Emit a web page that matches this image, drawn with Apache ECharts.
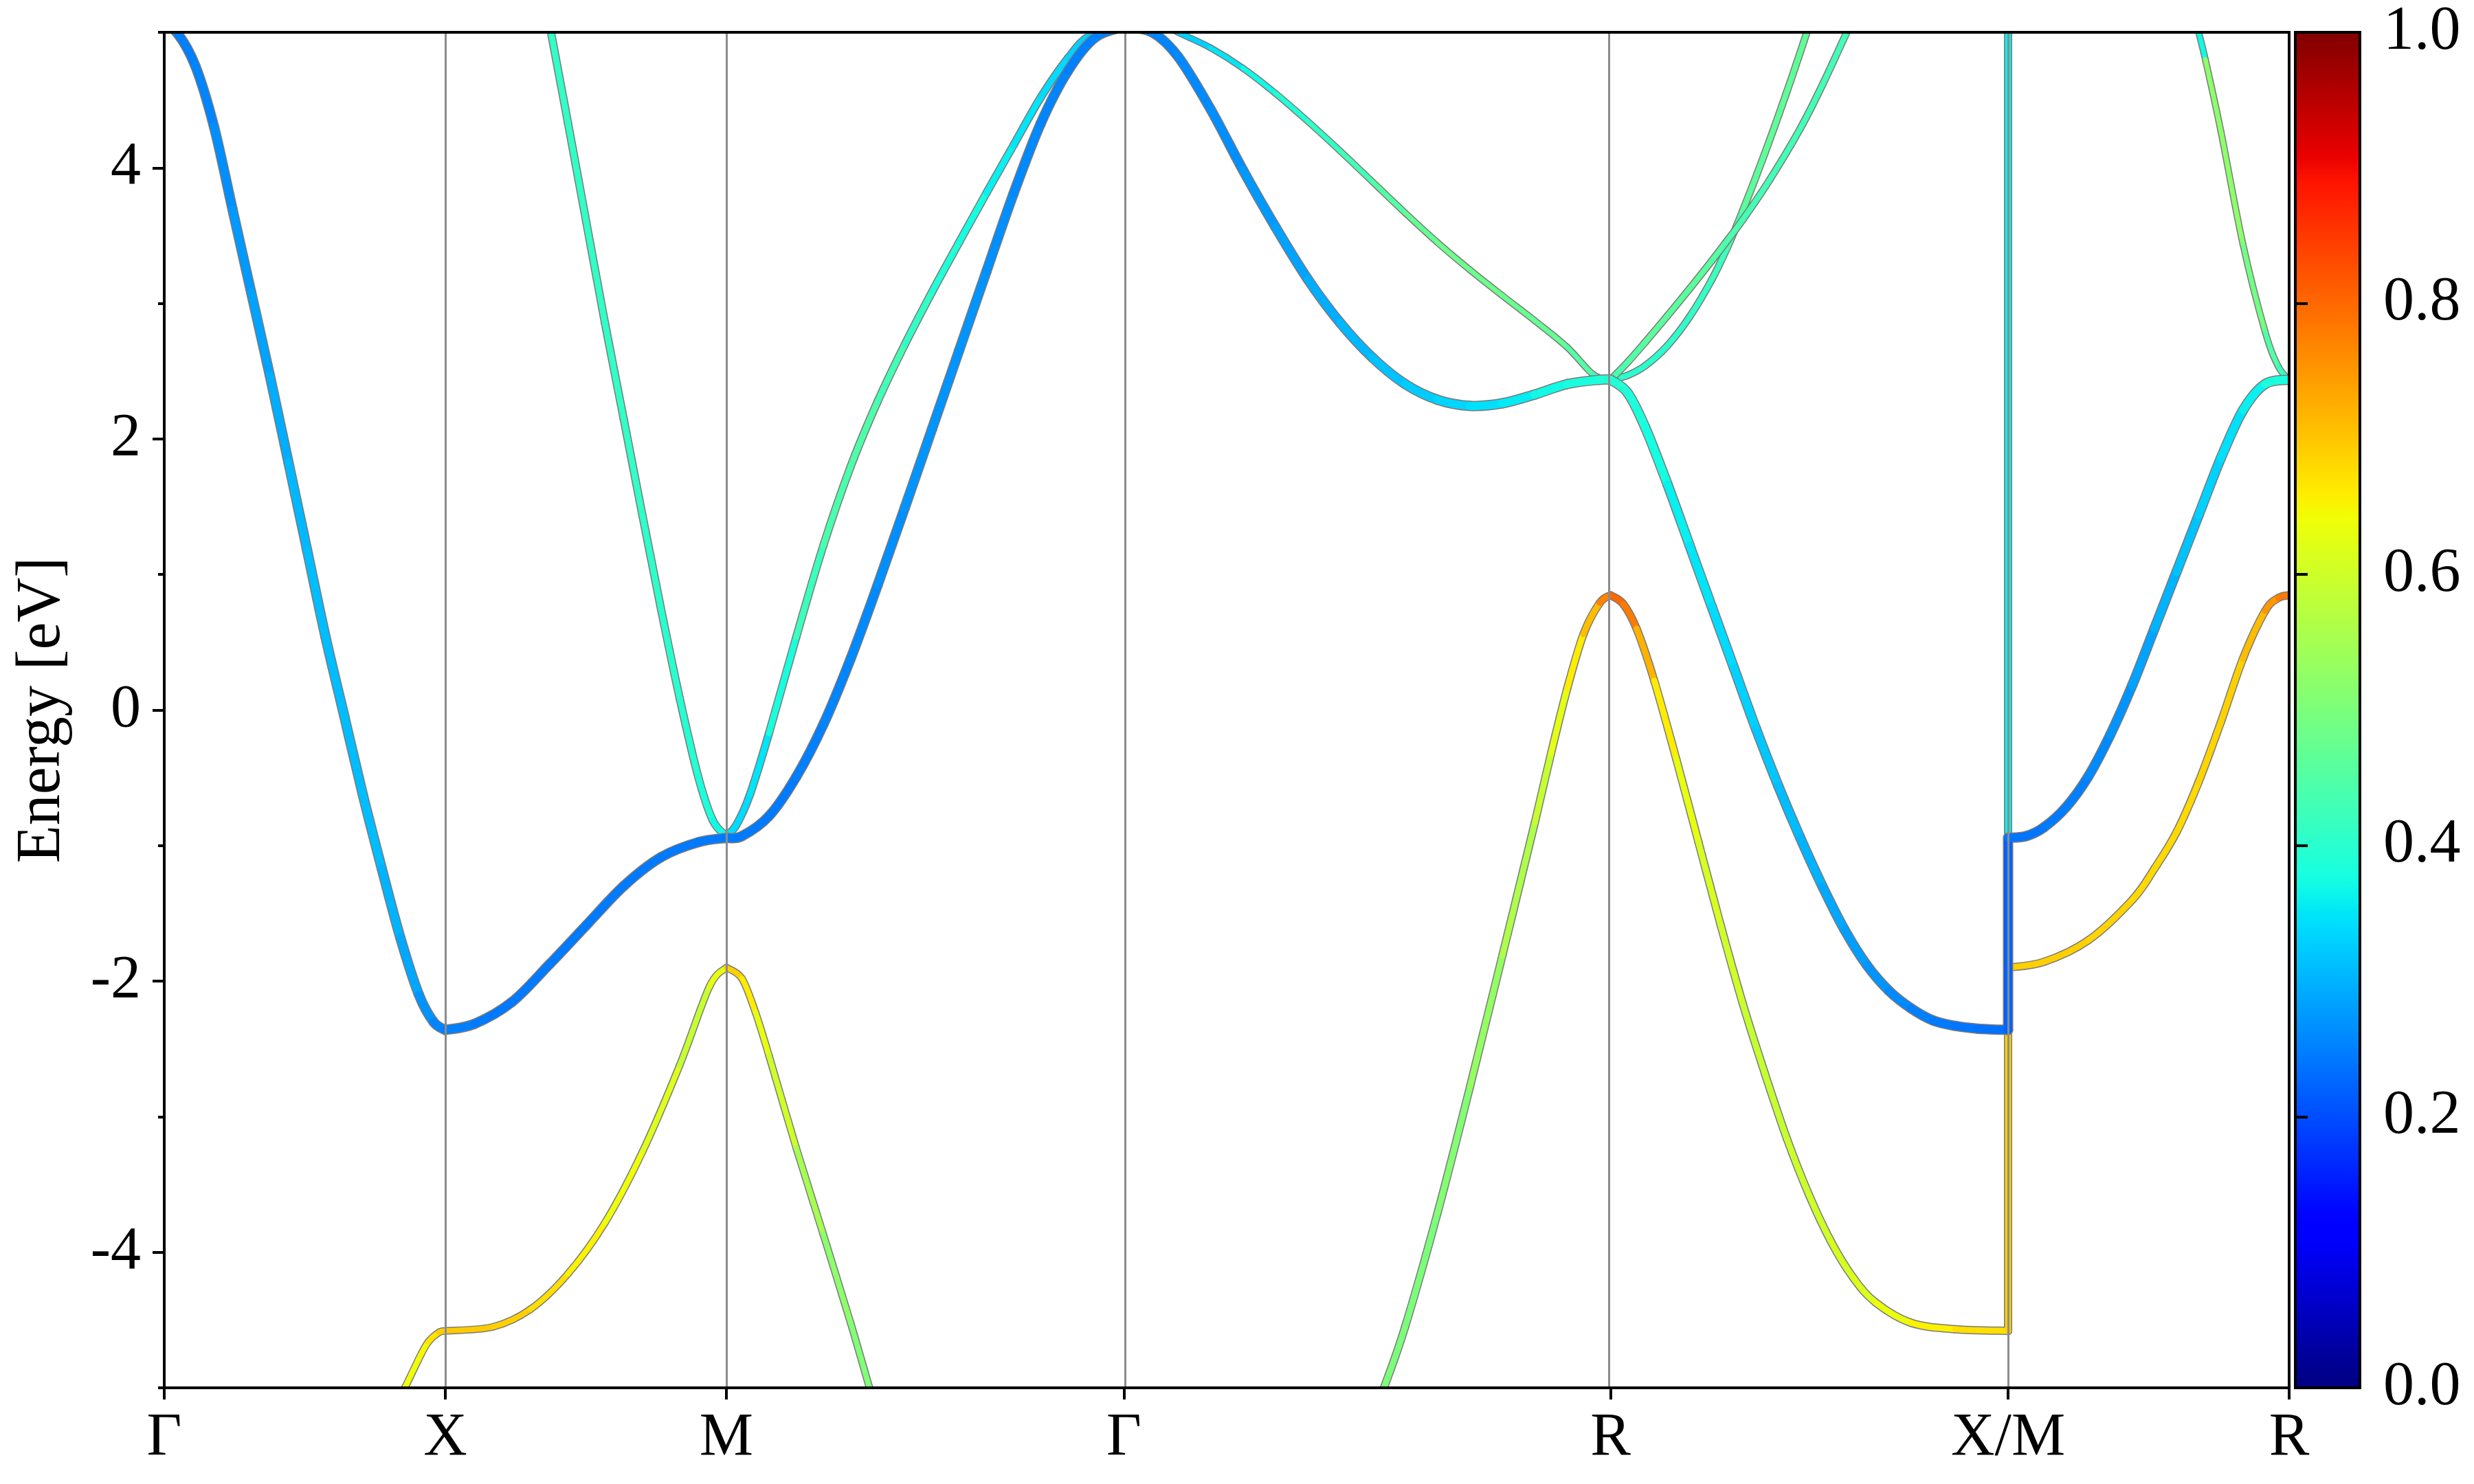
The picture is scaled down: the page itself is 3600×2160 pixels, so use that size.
<!DOCTYPE html>
<html>
<head>
<meta charset="utf-8">
<script src="https://cdn.jsdelivr.net/npm/echarts@6.0.0/dist/echarts.min.js"></script>
<style>html,body{margin:0;padding:0;background:#fff}#chart{width:3600px;height:2160px}</style>
</head>
<body>
<div id="chart"></div>
<script>
// ---- k-path ticks ----
const kTicks = [0, 0.5, 1.0, 1.7071, 2.5731, 3.2802, 3.7802];
const kLabels = ['Γ', 'X', 'M', 'Γ', 'R', 'X/M', 'R'];
const energyTicks = [-4, -2, 0, 2, 4];
const weightTicks = [0, 0.2, 0.4, 0.6, 0.8, 1.0];

// ---- bands: [k, E (eV), weight] ----
// lowest conduction band: Γ-X-M-Γ-R-X | M-R
const bandCB1 = [
  [0.000, 5.04, 0.25], [0.022, 5.00, 0.25], [0.055, 4.755, 0.255], [0.0884, 4.305, 0.265],
  [0.1215, 3.693, 0.275], [0.1547, 3.08, 0.285], [0.1878, 2.469, 0.295], [0.221, 1.826, 0.305],
  [0.254, 1.182, 0.31], [0.287, 0.538, 0.31], [0.320, -0.04, 0.31], [0.353, -0.62, 0.31],
  [0.387, -1.17, 0.30], [0.420, -1.68, 0.29], [0.453, -2.10, 0.27], [0.479, -2.30, 0.255],
  [0.500, -2.36, 0.25],
  [0.552, -2.315, 0.245], [0.6186, -2.154, 0.245], [0.685, -1.877, 0.245], [0.751, -1.587, 0.245],
  [0.8174, -1.298, 0.245], [0.884, -1.085, 0.245], [0.950, -0.975, 0.245], [1.000, -0.943, 0.245],
  [1.0276, -0.93, 0.245], [1.0759, -0.782, 0.245], [1.1243, -0.493, 0.25], [1.1726, -0.106, 0.255],
  [1.221, 0.378, 0.26], [1.2693, 0.924, 0.265], [1.3176, 1.494, 0.27], [1.366, 2.075, 0.27],
  [1.4143, 2.655, 0.27], [1.4627, 3.236, 0.265], [1.511, 3.811, 0.26], [1.5593, 4.328, 0.255],
  [1.6077, 4.715, 0.25], [1.656, 4.961, 0.25], [1.7071, 5.04, 0.25],
  [1.7575, 5.00, 0.255], [1.8037, 4.82, 0.26], [1.8614, 4.433, 0.265], [1.9191, 3.983, 0.275],
  [1.9768, 3.564, 0.285], [2.0344, 3.178, 0.295], [2.0921, 2.856, 0.305], [2.1498, 2.598, 0.315],
  [2.2075, 2.405, 0.325], [2.2652, 2.289, 0.335], [2.3229, 2.244, 0.345], [2.3806, 2.263, 0.355],
  [2.4383, 2.328, 0.37], [2.496, 2.405, 0.38], [2.5537, 2.437, 0.39], [2.5731, 2.437, 0.39],
  [2.6034, 2.34, 0.385], [2.6349, 2.083, 0.375], [2.6743, 1.665, 0.36], [2.7136, 1.214, 0.35],
  [2.753, 0.763, 0.34], [2.7924, 0.312, 0.33], [2.8317, -0.138, 0.32], [2.8711, -0.557, 0.31],
  [2.9105, -0.943, 0.30], [2.9499, -1.30, 0.29], [2.9892, -1.62, 0.28], [3.0286, -1.88, 0.27],
  [3.068, -2.07, 0.26], [3.1073, -2.20, 0.25], [3.1467, -2.29, 0.245], [3.1861, -2.33, 0.24],
  [3.2255, -2.35, 0.235], [3.2802, -2.36, 0.22],
  [3.2802, -0.943, 0.24], [3.3121, -0.93, 0.24], [3.3437, -0.866, 0.245], [3.3831, -0.718, 0.25],
  [3.4224, -0.493, 0.26], [3.4618, -0.184, 0.27], [3.5012, 0.184, 0.285], [3.5406, 0.602, 0.30],
  [3.58, 1.021, 0.315], [3.6193, 1.439, 0.33], [3.6587, 1.858, 0.345], [3.6981, 2.212, 0.36],
  [3.7375, 2.405, 0.38], [3.7802, 2.437, 0.39]
];
// second conduction band on X-M-Γ
const bandCB2a = [
  [0.688, 5.00, 0.41], [0.718, 4.337, 0.41], [0.751, 3.596, 0.41], [0.784, 2.856, 0.41],
  [0.8174, 2.147, 0.41], [0.851, 1.43, 0.405], [0.884, 0.74, 0.40], [0.917, 0.087, 0.395],
  [0.950, -0.493, 0.385], [0.976, -0.815, 0.37], [1.000, -0.93, 0.34],
  [1.0179, -0.847, 0.34], [1.0421, -0.622, 0.35], [1.0759, -0.17, 0.38], [1.1243, 0.538, 0.42],
  [1.1726, 1.214, 0.44], [1.221, 1.795, 0.445], [1.2693, 2.278, 0.43], [1.3176, 2.698, 0.41],
  [1.366, 3.085, 0.39], [1.4143, 3.452, 0.375], [1.4627, 3.815, 0.36], [1.511, 4.168, 0.35],
  [1.5593, 4.52, 0.34], [1.6077, 4.81, 0.33], [1.6463, 4.975, 0.32], [1.7071, 5.04, 0.32]
];
// second conduction band on Γ-R
const bandCB2b = [
  [1.7071, 5.20, 0.33], [1.8037, 5.00, 0.33], [1.8614, 4.885, 0.35], [1.9191, 4.735, 0.37],
  [1.9768, 4.550, 0.39], [2.0344, 4.343, 0.41], [2.0921, 4.124, 0.43], [2.1498, 3.896, 0.45],
  [2.2075, 3.668, 0.47], [2.2652, 3.449, 0.48], [2.3229, 3.247, 0.48], [2.3806, 3.057, 0.475],
  [2.4383, 2.872, 0.47], [2.496, 2.676, 0.45], [2.5421, 2.476, 0.42], [2.5731, 2.437, 0.40]
];
// upper conduction bands on R-X (they cross each other)
const bandRX1 = [
  [2.5731, 2.437, 0.44], [2.6034, 2.566, 0.45], [2.6349, 2.715, 0.46], [2.6743, 2.909, 0.46],
  [2.7136, 3.108, 0.46], [2.753, 3.314, 0.45], [2.7766, 3.442, 0.44], [2.8081, 3.617, 0.43],
  [2.8554, 3.907, 0.43], [2.9105, 4.290, 0.43], [2.9499, 4.612, 0.43], [2.9932, 5.00, 0.43]
];
const bandRX2 = [
  [2.5731, 2.437, 0.40], [2.6034, 2.469, 0.40], [2.6349, 2.541, 0.40], [2.6743, 2.689, 0.405],
  [2.7136, 2.901, 0.41], [2.753, 3.175, 0.42], [2.7807, 3.412, 0.44], [2.8081, 3.683, 0.46],
  [2.8475, 4.108, 0.465], [2.8869, 4.565, 0.465], [2.9223, 5.00, 0.465]
];
// band leaving X above the window and reaching M at -0.943 eV
const bandXM = [[3.2802, 5.30, 0.36], [3.2802, -0.943, 0.36]];
// third conduction band on M-R
const bandMR3 = [
  [3.6100, 5.16, 0.37], [3.6193, 5.00, 0.37], [3.6311, 4.80, 0.52], [3.6587, 4.272, 0.52],
  [3.6981, 3.435, 0.49], [3.7375, 2.791, 0.45], [3.761, 2.534, 0.42], [3.7802, 2.437, 0.40]
];
// top valence band on Γ-X-M-Γ
const bandVB1a = [
  [0.420, -5.05, 0.64], [0.428, -5.00, 0.64], [0.456, -4.76, 0.65], [0.470, -4.66, 0.67],
  [0.489, -4.59, 0.69], [0.500, -4.58, 0.695],
  [0.585, -4.55, 0.69], [0.6517, -4.42, 0.675], [0.718, -4.16, 0.655], [0.7843, -3.78, 0.64],
  [0.8506, -3.26, 0.62], [0.917, -2.62, 0.59], [0.970, -2.04, 0.63], [1.000, -1.90, 0.69],
  [1.0276, -1.98, 0.66], [1.0518, -2.23, 0.63], [1.0759, -2.55, 0.60], [1.1243, -3.23, 0.55],
  [1.1726, -3.87, 0.52], [1.221, -4.52, 0.505], [1.2547, -5.00, 0.50], [1.262, -5.10, 0.50]
];
// top valence band on Γ-R-X | M-R
const bandVB1b = [
  [2.160, -5.10, 0.50], [2.1699, -5.00, 0.50], [2.2075, -4.55, 0.50], [2.2652, -3.71, 0.51],
  [2.3229, -2.78, 0.53], [2.3806, -1.81, 0.56], [2.4383, -0.83, 0.59], [2.4671, -0.32, 0.625],
  [2.496, 0.16, 0.66], [2.5248, 0.56, 0.71], [2.5537, 0.79, 0.77], [2.5731, 0.847, 0.80],
  [2.5956, 0.782, 0.78], [2.6193, 0.60, 0.72], [2.6508, 0.216, 0.66], [2.6901, -0.364, 0.63],
  [2.7295, -0.976, 0.61], [2.7689, -1.587, 0.60], [2.8083, -2.167, 0.59], [2.8476, -2.682, 0.59],
  [2.887, -3.165, 0.595], [2.9264, -3.58, 0.60], [2.9657, -3.925, 0.61], [3.0051, -4.19, 0.62],
  [3.0445, -4.37, 0.635], [3.1073, -4.52, 0.655], [3.1861, -4.568, 0.675], [3.2802, -4.58, 0.69],
  [3.2802, -1.90, 0.69], [3.3437, -1.858, 0.69], [3.4224, -1.70, 0.685], [3.5012, -1.40, 0.68],
  [3.5406, -1.17, 0.68], [3.58, -0.90, 0.68], [3.6193, -0.53, 0.685], [3.6587, -0.09, 0.69],
  [3.6981, 0.38, 0.71], [3.7375, 0.731, 0.75], [3.761, 0.827, 0.78], [3.7802, 0.847, 0.80]
];

// ---- styles ----
const bands = [
  { pts: bandVB1a, width: 8 },
  { pts: bandVB1b, width: 9 },
  { pts: bandMR3, width: 7 },
  { pts: bandRX2, width: 8 },
  { pts: bandRX1, width: 8 },
  { pts: bandCB2b, width: 7 },
  { pts: bandCB2a, width: 9 },
  { pts: bandXM, width: 9 },
  { pts: bandCB1, width: 12 }
];
const FONT = "'Liberation Serif', 'Times New Roman', serif";
const FS = 88;

// matplotlib "jet" colormap
const jetR = [[0, 0], [0.35, 0], [0.66, 1], [0.89, 1], [1, 0.5]];
const jetG = [[0, 0], [0.125, 0], [0.375, 1], [0.64, 1], [0.91, 0], [1, 0]];
const jetB = [[0, 0.5], [0.11, 1], [0.34, 1], [0.65, 0], [1, 0]];
function chan(t, s) {
  for (let i = 0; i < s.length - 1; i++) {
    if (t <= s[i + 1][0]) return s[i][1] + (s[i + 1][1] - s[i][1]) * (t - s[i][0]) / (s[i + 1][0] - s[i][0]);
  }
  return s[s.length - 1][1];
}
const jetColors = [];
for (let i = 0; i <= 200; i++) {
  const t = i / 200;
  const c = [chan(t, jetR), chan(t, jetG), chan(t, jetB)].map(v => Math.round(v * 255));
  jetColors.push('rgb(' + c.join(',') + ')');
}

// a point at a high-symmetry k is a possible kink: the drawn curve is not smoothed across it
function isKink(p) { return kTicks.some(k => Math.abs(k - p[0]) < 1e-6); }
// item: [kPrev, EPrev, k1, E1, k2, E2, kNext, ENext, weight]
function segments(pts) {
  const out = [];
  for (let i = 0; i < pts.length - 1; i++) {
    const a = pts[i], b = pts[i + 1];
    const prev = (i > 0 && !isKink(a)) ? pts[i - 1] : a;
    const next = (i + 2 < pts.length && !isKink(b)) ? pts[i + 2] : b;
    out.push([prev[0], prev[1], a[0], a[1], b[0], b[1], next[0], next[1], a[2]]);
  }
  return out;
}
function makeRender(lw, stroke) {
  return function (params, api) {
    const p0 = api.coord([api.value(0), api.value(1)]);
    const p1 = api.coord([api.value(2), api.value(3)]);
    const p2 = api.coord([api.value(4), api.value(5)]);
    const p3 = api.coord([api.value(6), api.value(7)]);
    return {
      type: 'bezierCurve',
      shape: {
        x1: p1[0], y1: p1[1], x2: p2[0], y2: p2[1],
        cpx1: p1[0] + (p2[0] - p0[0]) / 6, cpy1: p1[1] + (p2[1] - p0[1]) / 6,
        cpx2: p2[0] - (p3[0] - p1[0]) / 6, cpy2: p2[1] - (p3[1] - p1[1]) / 6
      },
      style: { stroke: stroke || api.visual('color'), lineWidth: lw, lineCap: 'round', fill: null }
    };
  };
}

const series = [{
  type: 'line', data: [], xAxisIndex: 0, yAxisIndex: 0, z: 1, silent: true,
  markLine: {
    silent: true, symbol: ['none', 'none'], label: { show: false }, animation: false,
    lineStyle: { color: '#8c8c8c', width: 3, type: 'solid' },
    data: kTicks.slice(1, -1).map(k => ({ xAxis: k }))
  }
}];
const colored = [];
bands.forEach(b => {
  const d = segments(b.pts);
  series.push({
    type: 'custom', xAxisIndex: 0, yAxisIndex: 0, clip: true, silent: true, z: 2,
    renderItem: makeRender(b.width + 3, '#7a7a7a'),
    encode: { x: [2, 4], y: [3, 5] }, data: d
  });
  colored.push(series.length);
  series.push({
    type: 'custom', xAxisIndex: 0, yAxisIndex: 0, clip: true, silent: true, z: 2,
    renderItem: makeRender(b.width, null),
    encode: { x: [2, 4], y: [3, 5] }, data: d
  });
});

const txt = { fontFamily: FONT, fontSize: FS, color: '#000' };
const option = {
  animation: false,
  backgroundColor: '#fff',
  grid: [
    { left: 239, top: 47, width: 3092, height: 1973, show: true, borderColor: '#000', borderWidth: 4, backgroundColor: 'transparent', z: 10 },
    { left: 3340, top: 47, width: 94, height: 1973, show: true, borderColor: '#000', borderWidth: 4, backgroundColor: 'transparent', z: 10 }
  ],
  xAxis: [
    {
      type: 'value', gridIndex: 0, min: 0, max: kTicks[kTicks.length - 1], z: 10,
      axisLine: { show: true, onZero: false, lineStyle: { color: '#000', width: 4 } },
      axisTick: { show: true, customValues: kTicks, length: 17, lineStyle: { color: '#000', width: 4 } },
      axisLabel: {
        customValues: kTicks, margin: 30, showMinLabel: true, showMaxLabel: true, ...txt,
        formatter: v => { let best = 0; kTicks.forEach((k, i) => { if (Math.abs(k - v) < Math.abs(kTicks[best] - v)) best = i; }); return kLabels[best]; }
      },
      splitLine: { show: false }
    },
    { type: 'value', gridIndex: 1, min: 0, max: 1, show: false }
  ],
  yAxis: [
    {
      type: 'value', gridIndex: 0, min: -5, max: 5, interval: 1, position: 'left', z: 10,
      axisLine: { show: true, onZero: false, lineStyle: { color: '#000', width: 4 } },
      axisTick: { show: true, length: 9, lineStyle: { color: '#000', width: 4 } },
      axisLabel: { show: false },
      splitLine: { show: false },
      name: 'Energy [eV]', nameLocation: 'middle', nameGap: 132,
      nameTextStyle: { ...txt, fontSize: 90 }
    },
    {
      type: 'value', gridIndex: 0, min: -5, max: 5, position: 'left', z: 10,
      axisLine: { show: false },
      axisTick: { show: true, customValues: energyTicks, length: 17, lineStyle: { color: '#000', width: 4 } },
      axisLabel: { customValues: energyTicks, margin: 34, formatter: v => String(v), ...txt },
      splitLine: { show: false }
    },
    {
      type: 'value', gridIndex: 1, min: 0, max: 1, position: 'right', z: 10,
      axisLine: { show: true, lineStyle: { color: '#000', width: 4 } },
      axisTick: { show: true, customValues: weightTicks, length: 18, lineStyle: { color: '#000', width: 4 } },
      axisLabel: { customValues: weightTicks, margin: 34, formatter: v => v.toFixed(1), ...txt, fontSize: 90 },
      splitLine: { show: false }
    }
  ],
  visualMap: [{
    type: 'continuous', min: 0, max: 1, dimension: 8, seriesIndex: colored,
    inRange: { color: jetColors },
    orient: 'vertical', left: 3340, top: 47, itemWidth: 94, itemHeight: 1973,
    padding: 0, calculable: false, hoverLink: false, text: null, z: 3
  }],
  series: series
};
const chart = echarts.init(document.getElementById('chart'), null, { renderer: 'canvas' });
chart.setOption(option);
</script>
</body>
</html>
